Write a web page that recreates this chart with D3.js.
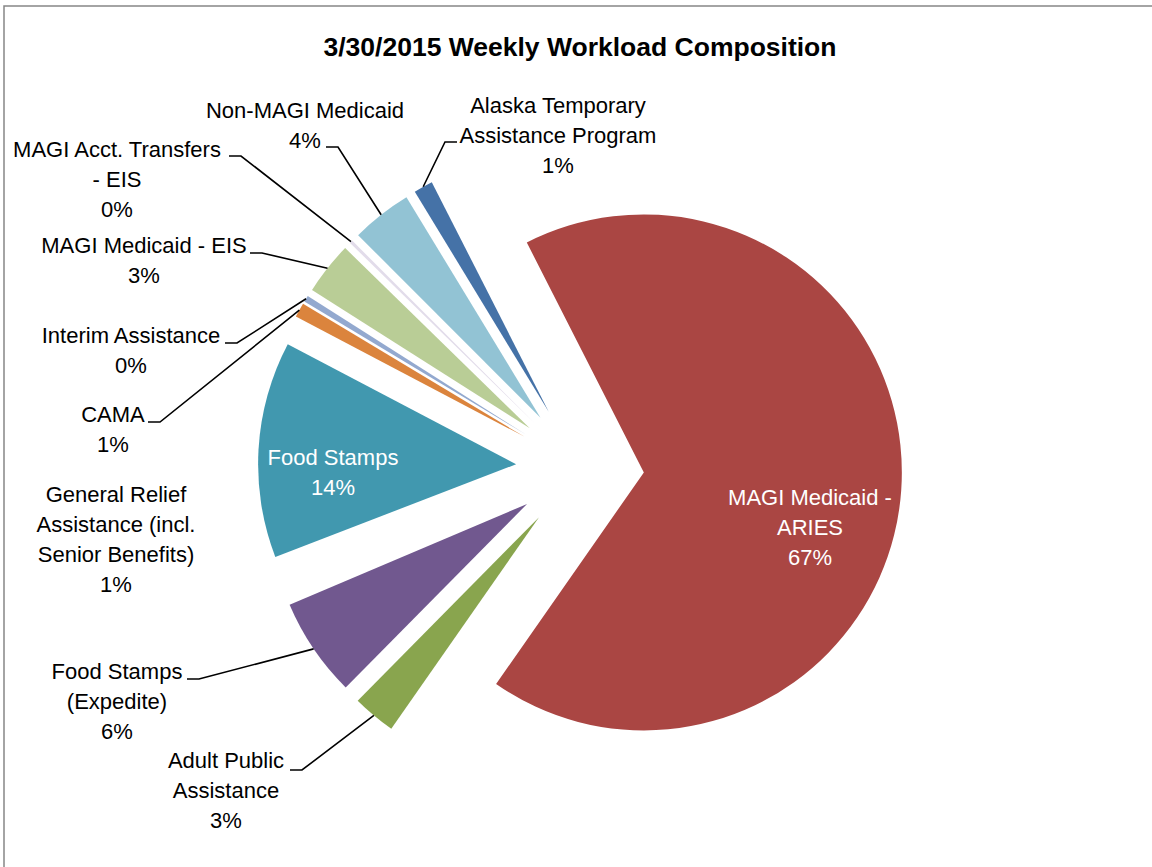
<!DOCTYPE html>
<html>
<head>
<meta charset="utf-8">
<script src="https://cdn.jsdelivr.net/npm/d3@7"></script>
<style>
  body { margin: 0; background: #fff; }
  svg { display: block; }
</style>
</head>
<body>
<div id="chart"></div>
<script>
// data (clockwise from the Alaska slice)
const categories = [
  "Alaska Temporary Assistance Program",
  "MAGI Medicaid - ARIES",
  "Adult Public Assistance",
  "Food Stamps (Expedite)",
  "General Relief Assistance (incl. Senior Benefits)",
  "Food Stamps",
  "CAMA",
  "Interim Assistance",
  "MAGI Medicaid - EIS",
  "MAGI Acct. Transfers - EIS",
  "Non-MAGI Medicaid"
]
const shares = [1.2, 67.2, 2.7, 6.2, 0.55, 13.55, 0.9, 0.4, 3.3, 0.2, 3.8]
const label_lines = [
  ["Alaska Temporary", "Assistance Program"],
  ["MAGI Medicaid -", "ARIES"],
  ["Adult Public", "Assistance"],
  ["Food Stamps", "(Expedite)"],
  ["General Relief", "Assistance (incl.", "Senior Benefits)"],
  ["Food Stamps"],
  ["CAMA"],
  ["Interim Assistance"],
  ["MAGI Medicaid - EIS"],
  ["MAGI Acct. Transfers", "- EIS"],
  ["Non-MAGI Medicaid"]
]

// styles
const colors = ["#4572A7", "#AA4643", "#89A54E", "#71588F", "#ffffff", "#4198AF",
                "#DB843D", "#93A9CF", "#B9CD96", "#E2DCEA", "#92C3D4"]

// label layout: center x, first baseline, leader start and direction
const label_layout = {
  "Alaska Temporary Assistance Program": { x: 558, y: 113, lead: [457, 142], dir: -1 },
  "MAGI Medicaid - ARIES": { x: 810, y: 505, inside: true },
  "Adult Public Assistance": { x: 226, y: 768, lead: [290, 770], dir: 1 },
  "Food Stamps (Expedite)": { x: 117, y: 679, lead: [187, 679], dir: 1 },
  "General Relief Assistance (incl. Senior Benefits)": { x: 116, y: 502 },
  "Food Stamps": { x: 333, y: 465, inside: true },
  "CAMA": { x: 113, y: 422, lead: [148, 422], dir: 1 },
  "Interim Assistance": { x: 131, y: 343, lead: [225, 343], dir: 1 },
  "MAGI Medicaid - EIS": { x: 144, y: 253, lead: [250, 253], dir: 1 },
  "MAGI Acct. Transfers - EIS": { x: 117, y: 157, lead: [229, 156], dir: 1 },
  "Non-MAGI Medicaid": { x: 305, y: 118, lead: [326, 147], dir: 1 }
}

const width = 1152
const height = 867
const cx = 580
const cy = 468
const radius = 258
const explode = 64
const line_height = 30
const start_deg = -31.3

const svg = d3.select("#chart")
  .append("svg")
    .attr("width", width)
    .attr("height", height)
    .style("font-family", "'Liberation Sans', Arial, sans-serif")

// chart area border
svg.append("rect")
  .attr("x", 4)
  .attr("y", 6)
  .attr("width", width + 20)
  .attr("height", height + 20)
  .attr("fill", "none")
  .attr("stroke", "#868686")
  .attr("stroke-width", 1.5)

svg.append("text")
  .attr("x", cx)
  .attr("y", 56)
  .attr("text-anchor", "middle")
  .style("font-size", "26.5px")
  .style("font-weight", "bold")
  .text("3/30/2015 Weekly Workload Composition")

const data = categories.map((c, i) => ({ name: c, value: shares[i], idx: i }))
const total = d3.sum(shares)

const start = start_deg * Math.PI / 180
const pie = d3.pie()
  .sort(null)
  .value(d => d.value)
  .startAngle(start)
  .endAngle(start + 2 * Math.PI)

const arcs = pie(data)
const arc = d3.arc().innerRadius(0).outerRadius(radius)

const mid = d => (d.startAngle + d.endAngle) / 2
const offset = d => [Math.sin(mid(d)) * explode, -Math.cos(mid(d)) * explode]

const g = svg.append("g").attr("transform", `translate(${cx}, ${cy})`)

g.selectAll("path.slice")
  .data(arcs)
  .join("path")
    .attr("class", "slice")
    .attr("d", arc)
    .attr("transform", d => `translate(${offset(d)[0]}, ${offset(d)[1]})`)
    .attr("fill", d => colors[d.data.idx])

// leader lines
arcs.forEach(d => {
  const lay = label_layout[d.data.name]
  if (!lay.lead) return
  const o = offset(d)
  const ex = cx + o[0] + Math.sin(mid(d)) * radius
  const ey = cy + o[1] - Math.cos(mid(d)) * radius
  const pts = [lay.lead, [lay.lead[0] + lay.dir * 12, lay.lead[1]], [ex, ey]]
  svg.append("path")
    .attr("d", d3.line()(pts))
    .attr("fill", "none")
    .attr("stroke", "black")
    .attr("stroke-width", 1.6)
})

// labels
arcs.forEach(d => {
  const lay = label_layout[d.data.name]
  const lines = label_lines[d.data.idx].concat([Math.round(d.data.value / total * 100) + "%"])
  const t = svg.append("text")
    .attr("text-anchor", "middle")
    .attr("fill", lay.inside ? "white" : "black")
    .style("font-size", "22px")
  lines.forEach((s, k) => {
    t.append("tspan")
      .attr("x", lay.x)
      .attr("y", lay.y + k * line_height)
      .text(s)
  })
})
</script>
</body>
</html>
